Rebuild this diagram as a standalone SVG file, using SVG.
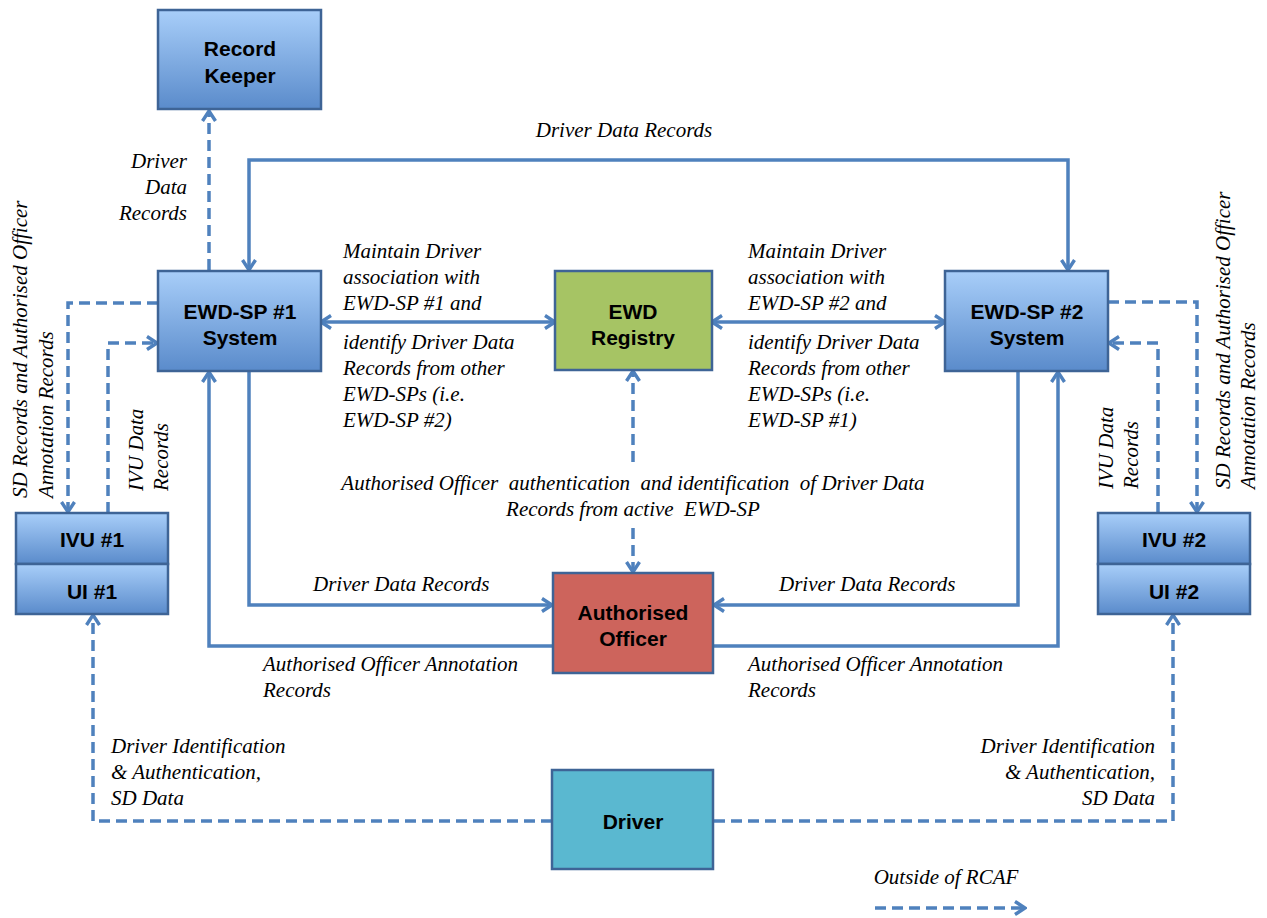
<svg xmlns="http://www.w3.org/2000/svg" width="1267" height="918" viewBox="0 0 1267 918">
<style>
.box{stroke:#3E6496;stroke-width:2.5}
.blue{fill:url(#gb)}
.t{font-family:"Liberation Sans",Arial,sans-serif;font-weight:bold;font-size:21px;fill:#000;text-anchor:middle}
.l{font-family:"Liberation Serif","Times New Roman",serif;font-style:italic;font-size:21px;fill:#000}
.s{fill:none;stroke:#4F81BD;stroke-width:3.5}
.d{fill:none;stroke:#4F81BD;stroke-width:3.5;stroke-dasharray:11 6}
</style>
<defs>
<linearGradient id="gb" x1="0" y1="0" x2="0" y2="1">
<stop offset="0" stop-color="#A8CEF9"/>
<stop offset="1" stop-color="#5A8BCB"/>
</linearGradient>
<marker id="ah" viewBox="0 0 14 16" refX="12" refY="8" markerWidth="14" markerHeight="16" orient="auto-start-reverse" markerUnits="userSpaceOnUse">
<path d="M2,1.5 L12,8 L2,14.5" fill="none" stroke="#4F81BD" stroke-width="3.4"/>
</marker>
</defs>
<g id="connectors">
<path class="d" d="M209,270 L209,111" marker-end="url(#ah)"/>
<path class="s" d="M249,270 L249,160 L1068,160 L1068,270" marker-start="url(#ah)" marker-end="url(#ah)"/>
<path class="s" d="M321,322 L555,322" marker-start="url(#ah)" marker-end="url(#ah)"/>
<path class="s" d="M712,322 L945,322" marker-start="url(#ah)" marker-end="url(#ah)"/>
<path class="d" d="M633,462 L633,371" marker-end="url(#ah)"/>
<path class="d" d="M633,528 L633,572" marker-end="url(#ah)"/>
<path class="s" d="M249,371 L249,605 L552,605" marker-end="url(#ah)"/>
<path class="s" d="M553,646 L209,646 L209,372" marker-end="url(#ah)"/>
<path class="s" d="M1018,371 L1018,605 L714,605" marker-end="url(#ah)"/>
<path class="s" d="M713,646 L1058,646 L1058,372" marker-end="url(#ah)"/>
<path class="d" d="M158,303 L68,303 L68,512" marker-end="url(#ah)"/>
<path class="d" d="M108,513 L108,343 L157,343" marker-end="url(#ah)"/>
<path class="d" d="M1108,302 L1197,302 L1197,512" marker-end="url(#ah)"/>
<path class="d" d="M1158,513 L1158,343 L1109,343" marker-end="url(#ah)"/>
<path class="d" d="M552,821 L93,821 L93,615" marker-end="url(#ah)"/>
<path class="d" d="M714,821 L1173,821 L1173,615" marker-end="url(#ah)"/>
<path class="d" d="M875,908 L1025,908" marker-end="url(#ah)"/>
</g>
<g id="labels">
<text class="l" x="624" y="137" text-anchor="middle">Driver Data Records</text>
<text class="l" text-anchor="end"><tspan x="187" y="168">Driver</tspan><tspan x="187" y="194">Data</tspan><tspan x="187" y="220">Records</tspan></text>
<text class="l"><tspan x="343" y="258">Maintain Driver</tspan><tspan x="343" y="284">association with</tspan><tspan x="343" y="310">EWD-SP #1 and</tspan><tspan x="343" y="349">identify Driver Data</tspan><tspan x="343" y="375">Records from other</tspan><tspan x="343" y="401">EWD-SPs (i.e.</tspan><tspan x="343" y="427">EWD-SP #2)</tspan></text>
<text class="l"><tspan x="748" y="258">Maintain Driver</tspan><tspan x="748" y="284">association with</tspan><tspan x="748" y="310">EWD-SP #2 and</tspan><tspan x="748" y="349">identify Driver Data</tspan><tspan x="748" y="375">Records from other</tspan><tspan x="748" y="401">EWD-SPs (i.e.</tspan><tspan x="748" y="427">EWD-SP #1)</tspan></text>
<text class="l" text-anchor="middle" xml:space="preserve"><tspan x="633" y="490">Authorised Officer  authentication  and identification  of Driver Data</tspan><tspan x="633" y="516">Records from active  EWD-SP</tspan></text>
<text class="l" x="313" y="591">Driver Data Records</text>
<text class="l" x="779" y="591">Driver Data Records</text>
<text class="l"><tspan x="263" y="671">Authorised Officer Annotation</tspan><tspan x="263" y="697">Records</tspan></text>
<text class="l"><tspan x="748" y="671">Authorised Officer Annotation</tspan><tspan x="748" y="697">Records</tspan></text>
<text class="l"><tspan x="111" y="753">Driver Identification</tspan><tspan x="111" y="779">&amp; Authentication,</tspan><tspan x="111" y="805">SD Data</tspan></text>
<text class="l" text-anchor="end"><tspan x="1155" y="753">Driver Identification</tspan><tspan x="1155" y="779">&amp; Authentication,</tspan><tspan x="1155" y="805">SD Data</tspan></text>
<text class="l" transform="translate(27,498) rotate(-90)"><tspan x="0" y="0">SD Records and Authorised Officer</tspan><tspan x="0" y="26">Annotation Records</tspan></text>
<text class="l" transform="translate(143,491) rotate(-90)"><tspan x="0" y="0">IVU Data</tspan><tspan x="0" y="25">Records</tspan></text>
<text class="l" transform="translate(1113,489) rotate(-90)"><tspan x="0" y="0">IVU Data</tspan><tspan x="0" y="25">Records</tspan></text>
<text class="l" transform="translate(1230,489) rotate(-90)"><tspan x="0" y="0">SD Records and Authorised Officer</tspan><tspan x="0" y="25">Annotation Records</tspan></text>
<text class="l" x="946" y="884" text-anchor="middle">Outside of RCAF</text>
</g>
<g id="record-keeper">
<rect class="box blue" x="158" y="10" width="163" height="99"/>
<text class="t"><tspan x="240" y="56">Record</tspan><tspan x="240" y="83">Keeper</tspan></text>
</g>
<g id="ewd-sp1">
<rect class="box blue" x="158" y="271" width="163" height="100"/>
<text class="t"><tspan x="240" y="319">EWD-SP #1</tspan><tspan x="240" y="345">System</tspan></text>
</g>
<g id="ewd-registry">
<rect class="box" fill="#A6C464" x="555" y="271" width="157" height="99"/>
<text class="t"><tspan x="633" y="319">EWD</tspan><tspan x="633" y="345">Registry</tspan></text>
</g>
<g id="ewd-sp2">
<rect class="box blue" x="945" y="271" width="163" height="100"/>
<text class="t"><tspan x="1027" y="319">EWD-SP #2</tspan><tspan x="1027" y="345">System</tspan></text>
</g>
<g id="ivu1">
<rect class="box blue" x="16" y="513" width="152" height="51"/>
<rect class="box blue" x="16" y="564" width="152" height="50"/>
<text class="t" x="92" y="547">IVU #1</text>
<text class="t" x="92" y="599">UI #1</text>
</g>
<g id="ivu2">
<rect class="box blue" x="1098" y="513" width="152" height="51"/>
<rect class="box blue" x="1098" y="564" width="152" height="50"/>
<text class="t" x="1174" y="547">IVU #2</text>
<text class="t" x="1174" y="599">UI #2</text>
</g>
<g id="authorised-officer">
<rect class="box" fill="#CD645C" x="553" y="573" width="160" height="100"/>
<text class="t"><tspan x="633" y="620">Authorised</tspan><tspan x="633" y="646">Officer</tspan></text>
</g>
<g id="driver">
<rect class="box" fill="#5AB8D0" x="552" y="770" width="161" height="99"/>
<text class="t" x="633" y="829">Driver</text>
</g>
</svg>
